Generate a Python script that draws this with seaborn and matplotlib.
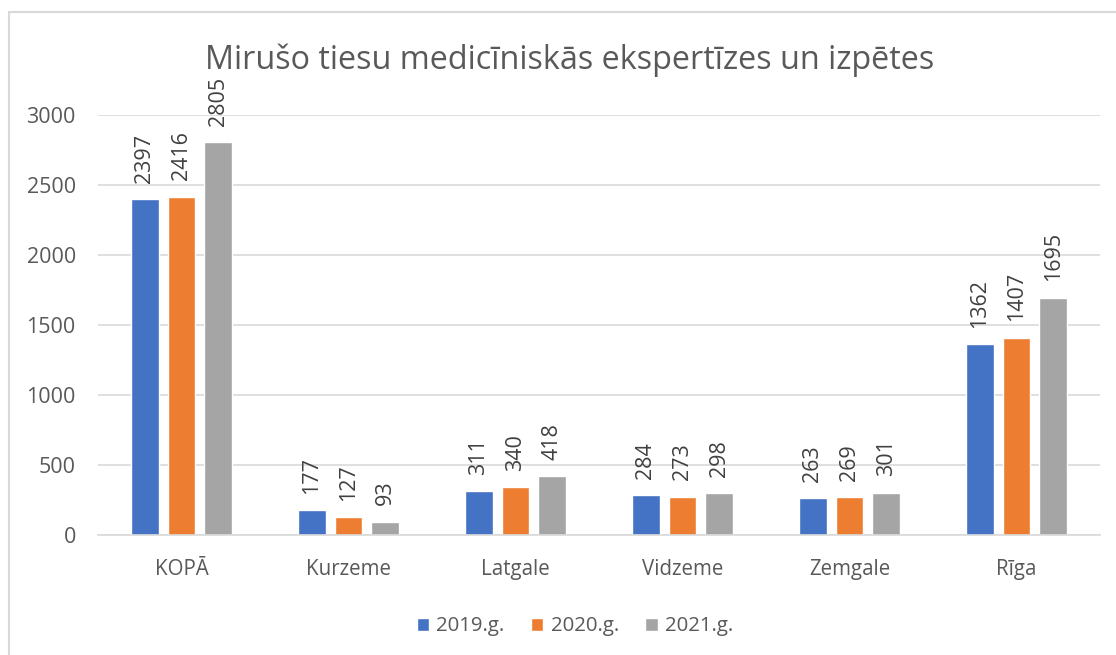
import matplotlib
matplotlib.use("Agg")
import matplotlib.pyplot as plt
import seaborn as sns
import pandas as pd
from matplotlib.patches import Rectangle

categories = ["KOPĀ", "Kurzeme", "Latgale", "Vidzeme", "Zemgale", "Rīga"]
series_names = ["2019.g.", "2020.g.", "2021.g."]
v2019 = [2397, 177, 311, 284, 263, 1362]
v2020 = [2416, 127, 340, 273, 269, 1407]
v2021 = [2805, 93, 418, 298, 301, 1695]
colors = ["#4472C4", "#ED7D31", "#A5A5A5"]
yticks = [0, 500, 1000, 1500, 2000, 2500, 3000]
title = "Mirušo tiesu medicīniskās ekspertīzes un izpētes"

rows = []
for name, vals in zip(series_names, [v2019, v2020, v2021]):
    for c, v in zip(categories, vals):
        rows.append({"Reģions": c, "Gads": name, "Skaits": v})
df = pd.DataFrame(rows)

sns.set_theme(style="white")
plt.rcParams["font.family"] = ["Open Sans", "DejaVu Sans"]

fig = plt.figure(figsize=(11.16, 6.55), dpi=100)
fig.patch.set_facecolor("white")
ax = fig.add_axes([98/1116, (655-535)/655, (1100-98)/1116, (535-115)/655])

sns.barplot(data=df, x="Reģions", y="Skaits", hue="Gads", palette=colors,
            width=0.66, gap=0.24, ax=ax, saturation=1, legend=True)

ax.set_ylim(0, 3000)
ax.set_xlim(-0.5, 5.5)
ax.set_yticks(yticks)
ax.set_yticklabels([str(t) for t in yticks])
ax.yaxis.grid(True, color="#D9D9D9", linewidth=1.2)
ax.set_axisbelow(True)
for s in ["top", "right", "left"]:
    ax.spines[s].set_visible(False)
ax.spines["bottom"].set_color("#D9D9D9")
ax.spines["bottom"].set_linewidth(1.2)
ax.tick_params(axis="y", length=0, labelsize=15.5, colors="#595959", pad=16)
ax.tick_params(axis="x", length=0, labelsize=14.8, colors="#595959", pad=17)
ax.set_xlabel("")
ax.set_ylabel("")

for cont in ax.containers:
    for bar in cont:
        h = bar.get_height()
        ax.annotate(f"{int(round(h))}", (bar.get_x() + bar.get_width()/2, h),
                    xytext=(0, 12), textcoords="offset points", rotation=90,
                    ha="center", va="bottom", fontsize=15.5, color="#404040",
                    annotation_clip=False)

leg = ax.legend(loc="upper center", bbox_to_anchor=(0.476, -0.15), ncol=3,
                frameon=False, fontsize=14.7, handlelength=0.6, handleheight=0.6,
                handletextpad=0.35, columnspacing=1.3)
for t in leg.get_texts():
    t.set_color("#595959")

fig.text(570/1116, 1 - 60/655, title, ha="center", va="center",
         fontsize=23.3, color="#595959")

fig.patches.append(Rectangle((9/1116, -0.05), 1.2, 1 - 12/655 + 0.05,
                             transform=fig.transFigure, fill=False,
                             edgecolor="#D9D9D9", linewidth=1.5))

fig.savefig("out.png", dpi=100)
